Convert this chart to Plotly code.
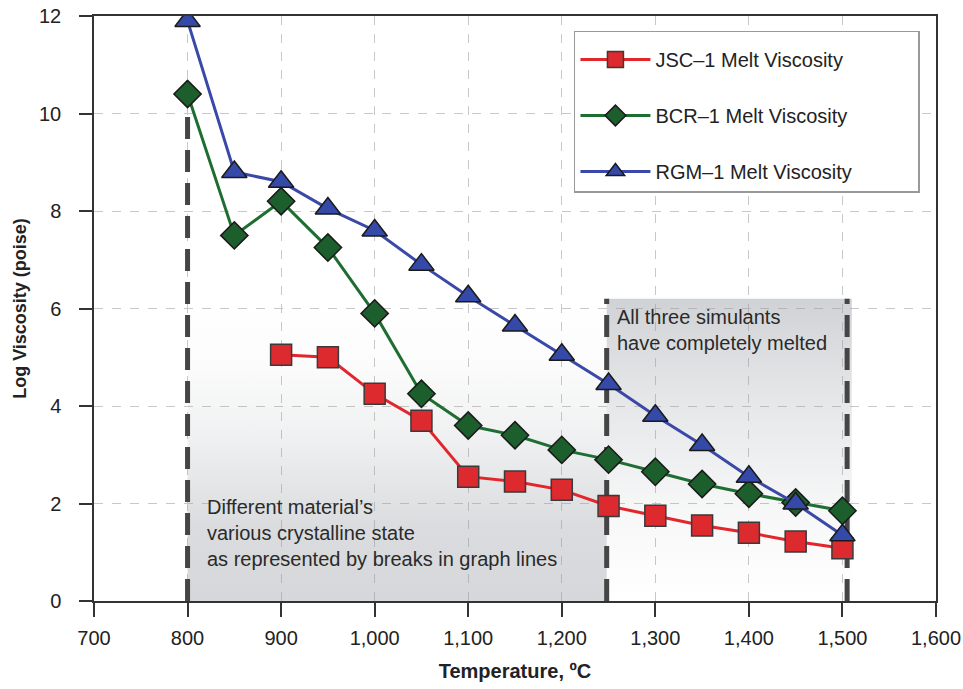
import plotly.graph_objects as go

FONT = "Liberation Sans Narrow, Liberation Sans, Arial, sans-serif"

temps = [800, 850, 900, 950, 1000, 1050, 1100, 1150, 1200, 1250, 1300, 1350, 1400, 1450, 1500]
jsc_temps = temps[2:]
jsc_visc = [5.05, 5.0, 4.25, 3.7, 2.55, 2.45, 2.28, 1.95, 1.75, 1.55, 1.4, 1.22, 1.08]
bcr_visc = [10.4, 7.5, 8.2, 7.25, 5.9, 4.25, 3.6, 3.4, 3.1, 2.9, 2.65, 2.4, 2.2, 2.02, 1.85]
rgm_visc = [11.9, 8.8, 8.6, 8.05, 7.6, 6.9, 6.25, 5.65, 5.05, 4.45, 3.8, 3.2, 2.55, 2.0, 1.35]

# region bounds for the shaded "crystalline" / "melted" zones
crystal_x = [800, 1248]
melted_x = [1248, 1510]
zone_top = 6.2
dash_x = [800, 1248, 1505]
dash_top = [10.4, 6.2, 6.2]

x_ticks = [700, 800, 900, 1000, 1100, 1200, 1300, 1400, 1500, 1600]
x_labels = ["700", "800", "900", "1,000", "1,100", "1,200", "1,300", "1,400", "1,500", "1,600"]

GRAY = "150,155,162"
PAD = "\u00a0" * 11  # widens the legend box a bit

fig = go.Figure()

# shaded zones with vertical gradients
fig.add_scatter(
    x=[crystal_x[0], crystal_x[1], crystal_x[1], crystal_x[0], crystal_x[0]],
    y=[0, 0, zone_top, zone_top, 0], mode="lines", line_width=0, fill="toself",
    fillgradient=dict(type="vertical", colorscale=[[0, f"rgba({GRAY},0.40)"],
                                                   [0.25, f"rgba({GRAY},0.35)"],
                                                   [0.55, f"rgba({GRAY},0.14)"],
                                                   [0.8, f"rgba({GRAY},0.03)"],
                                                   [1, f"rgba({GRAY},0.0)"]]),
    showlegend=False, hoverinfo="skip")
fig.add_scatter(
    x=[melted_x[0], melted_x[1], melted_x[1], melted_x[0], melted_x[0]],
    y=[0, 0, zone_top, zone_top, 0], mode="lines", line_width=0, fill="toself",
    fillgradient=dict(type="vertical", colorscale=[[0, f"rgba({GRAY},0.0)"],
                                                   [0.3, f"rgba({GRAY},0.08)"],
                                                   [0.7, f"rgba({GRAY},0.26)"],
                                                   [1, f"rgba({GRAY},0.45)"]]),
    showlegend=False, hoverinfo="skip")

for xv, top in zip(dash_x, dash_top):
    fig.add_scatter(x=[xv, xv], y=[0, top], mode="lines",
                    line=dict(color="#454545", width=5, dash="22px,11px"),
                    showlegend=False, hoverinfo="skip")

fig.add_scatter(x=jsc_temps, y=jsc_visc, mode="lines+markers", name="JSC–1 Melt Viscosity" + PAD,
                legendgroup="a",
                line=dict(color="#e2262b", width=3),
                marker=dict(symbol="square", size=21, color="#dd2a2e",
                            line=dict(color="#3a3a3a", width=1.5)))
fig.add_scatter(x=temps, y=bcr_visc, mode="lines+markers", name="BCR–1 Melt Viscosity" + PAD,
                legendgroup="b",
                line=dict(color="#1e6e32", width=3),
                marker=dict(symbol="diamond", size=21, color="#1c5e2c",
                            line=dict(color="#1a1a1a", width=1.5)))
fig.add_scatter(x=temps, y=rgm_visc, mode="lines+markers", name="RGM–1 Melt Viscosity" + PAD,
                legendgroup="c",
                line=dict(color="#3a48a8", width=3),
                marker=dict(symbol="triangle-up", size=22, color="#3549a8",
                            line=dict(color="#1a1a1a", width=1.5)))

fig.add_annotation(x=819, y=0.6, xref="x", yref="y", xanchor="left", yanchor="bottom",
                   text="Different material’s<br>various crystalline state<br>as represented by breaks in graph lines",
                   showarrow=False, align="left",
                   font=dict(family=FONT, size=20, color="#2a2a2a"))
fig.add_annotation(x=1257, y=6.1, xref="x", yref="y", xanchor="left", yanchor="top",
                   text="All three simulants<br>have completely melted",
                   showarrow=False, align="left",
                   font=dict(family=FONT, size=20, color="#2a2a2a"))

axis_common = dict(showline=True, linecolor="#333", linewidth=1.5, mirror=True,
                   ticks="outside", tickcolor="#333", tickwidth=1.5,
                   showgrid=True, gridcolor="#c8c8c8", griddash="dash", gridwidth=1,
                   zeroline=False, automargin=False, ticklabeloverflow="allow",
                   tickfont=dict(family=FONT, size=20, color="#222"))

fig.update_xaxes(range=[700, 1600], tickvals=x_ticks, ticktext=x_labels,
                 ticklen=14, ticklabelstandoff=4,
                 title=dict(text="<b>Temperature, ºC</b>", standoff=16,
                            font=dict(family=FONT, size=20, color="#222")),
                 **axis_common)
fig.update_yaxes(range=[0, 12], dtick=2, ticklen=13, ticklabelstandoff=14,
                 title=dict(text="<b>Log Viscosity (poise)</b>", standoff=8,
                            font=dict(family=FONT, size=18, color="#222")),
                 **axis_common)

fig.update_layout(
    width=963, height=689,
    margin=dict(l=94, r=27, t=16, b=88),
    plot_bgcolor="white", paper_bgcolor="white",
    legend=dict(x=0.57, y=0.975, xanchor="left", yanchor="top",
                bordercolor="#999", borderwidth=1.5, bgcolor="white",
                tracegroupgap=27, itemwidth=70,
                title=dict(text="\u00a0", font=dict(size=6)),
                font=dict(family=FONT, size=20, color="#222")),
)

# drop the default 8px page margin so the figure fills the window exactly
fig.write_html("out.html", config={"displayModeBar": False},
               post_script="document.body.style.margin = '0';")
